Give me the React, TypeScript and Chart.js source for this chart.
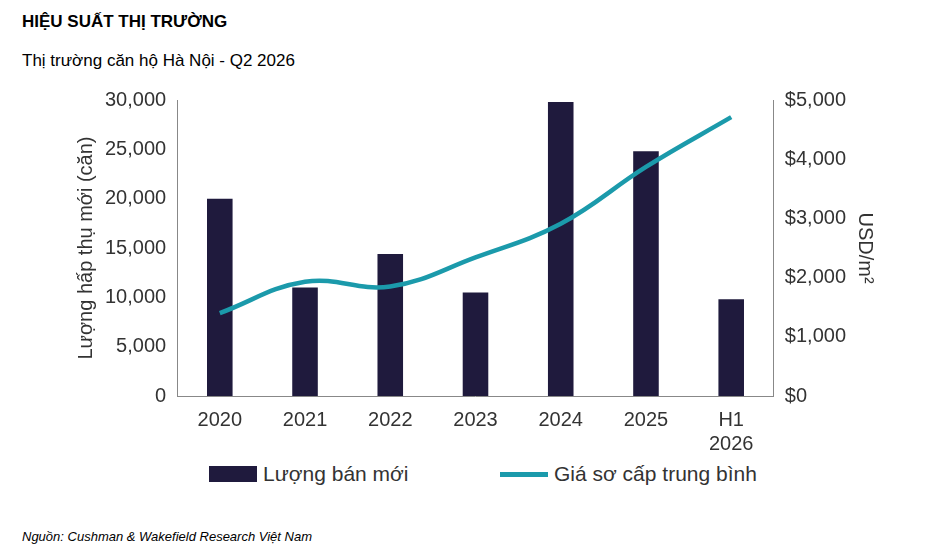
import React, { useEffect, useRef } from "react";
import { Chart, registerables } from "chart.js";
Chart.register(...registerables);

const categories: (string | string[])[] = ["2020", "2021", "2022", "2023", "2024", "2025", ["H1", "2026"]];
const salesUnits = [20000, 11000, 14400, 10500, 29800, 24800, 9800];
const avgPrice = [1400, 1930, 1850, 2340, 2910, 3870, 4710];
const leftTicks = [0, 5000, 10000, 15000, 20000, 25000, 30000];
const rightTicks = [0, 1000, 2000, 3000, 4000, 5000];

const FONT = "'Liberation Sans', Arial, sans-serif";
const NAVY = "#1f1a3d";
const TEAL = "#1b9aab";

export default function App() {
  const ref = useRef<HTMLCanvasElement>(null);
  useEffect(() => {
    const chart = new Chart(ref.current!, {
      type: "bar",
      data: {
        labels: categories,
        datasets: [
          { type: "line", label: "Giá sơ cấp trung bình", data: avgPrice, yAxisID: "y1", borderColor: TEAL, borderWidth: 4.5, pointRadius: 0, tension: 0.4, order: 0 },
          { type: "bar", label: "Lượng bán mới", data: salesUnits, yAxisID: "y", backgroundColor: NAVY, barPercentage: 0.3, categoryPercentage: 1, order: 1 },
        ],
      },
      options: {
        animation: false,
        responsive: false,
        layout: { padding: { left: 70, right: 55, top: 10, bottom: 0 } },
        plugins: { legend: { display: false }, tooltip: { enabled: false } },
        scales: {
          x: {
            grid: { display: false, drawTicks: true, tickColor: "#888", tickLength: 8 },
            border: { color: "#888" },
            ticks: { color: "#333", font: { family: FONT, size: 20 }, padding: 4 },
          },
          y: {
            min: 0, max: 30000,
            afterBuildTicks: (a: any) => { a.ticks = leftTicks.map((v) => ({ value: v })); },
            grid: { display: false, tickColor: "#888", tickLength: 8 },
            border: { color: "#888" },
            ticks: { color: "#333", font: { family: FONT, size: 20 }, callback: (v: any) => Number(v).toLocaleString("en-US") },
            title: { display: true, text: "Lượng hấp thụ mới (căn)", color: "#333", font: { family: FONT, size: 20 } },
          },
          y1: {
            position: "right", min: 0, max: 5000,
            afterBuildTicks: (a: any) => { a.ticks = rightTicks.map((v) => ({ value: v })); },
            grid: { display: false, tickColor: "#888", tickLength: 8 },
            border: { color: "#888" },
            ticks: { color: "#333", font: { family: FONT, size: 20 }, callback: (v: any) => "$" + Number(v).toLocaleString("en-US") },
            title: { display: true, text: "USD/m²", color: "#333", font: { family: FONT, size: 20 } },
          },
        },
      },
    } as any);
    return () => chart.destroy();
  }, []);
  return (
    <div style={{ position: "absolute", left: 0, top: 0, width: 936, height: 556, background: "#fff", fontFamily: FONT, color: "#000" }}>
      <div style={{ position: "absolute", left: 22, top: 12, fontWeight: "bold", fontSize: 17 }}>HIỆU SUẤT THỊ TRƯỜNG</div>
      <div style={{ position: "absolute", left: 22, top: 51, fontSize: 17 }}>Thị trường căn hộ Hà Nội - Q2 2026</div>
      <canvas ref={ref} width={936} height={375} style={{ position: "absolute", left: 0, top: 85 }} />
      <div style={{ position: "absolute", left: 209, top: 462, display: "flex", alignItems: "center", fontSize: 21, color: "#333" }}>
        <span style={{ display: "inline-block", width: 48, height: 16, background: NAVY, marginRight: 6 }} />Lượng bán mới
      </div>
      <div style={{ position: "absolute", left: 500, top: 462, display: "flex", alignItems: "center", fontSize: 21, color: "#333" }}>
        <span style={{ display: "inline-block", width: 48, height: 5, background: TEAL, marginRight: 6 }} />Giá sơ cấp trung bình
      </div>
      <div style={{ position: "absolute", left: 22, top: 529, fontSize: 13, fontStyle: "italic" }}>Nguồn: Cushman &amp; Wakefield Research Việt Nam</div>
    </div>
  );
}
